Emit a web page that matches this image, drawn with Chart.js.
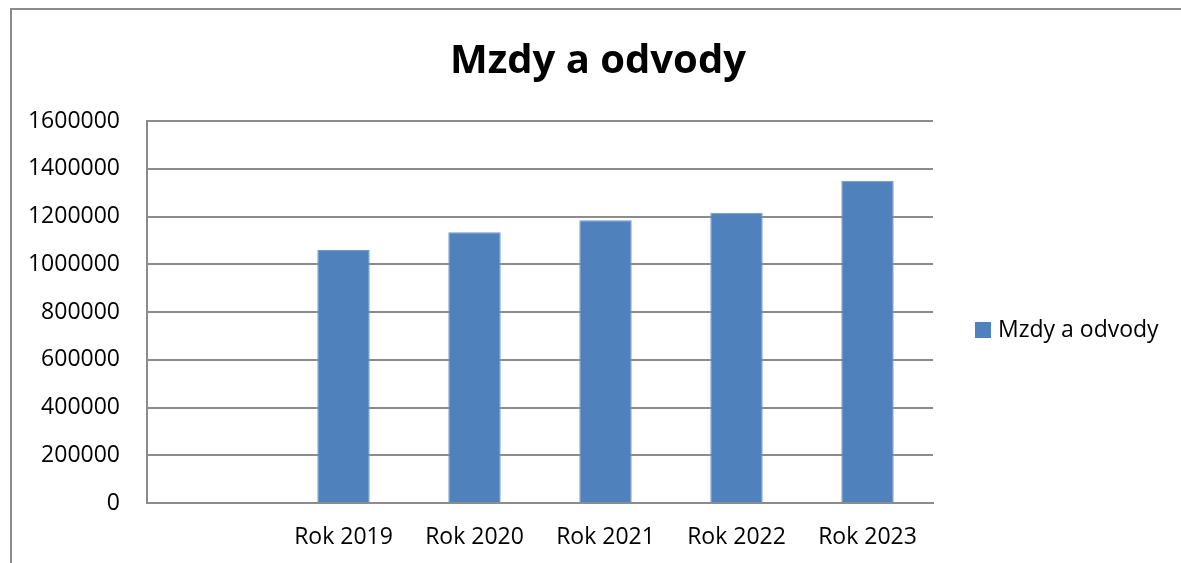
<!DOCTYPE html>
<html>
<head>
<meta charset="utf-8">
<script src="https://cdn.jsdelivr.net/npm/chart.js@4.4.1/dist/chart.umd.min.js"></script>
<style>
    body { margin: 0; background: #fff; overflow: hidden; }
    #frame { position: absolute; left: 10px; top: 8px; width: 1300px; height: 700px; border: 2px solid #8c8c8c; box-sizing: border-box; }
    #wrap { position: absolute; left: 0; top: 0; width: 1181px; height: 563px; }
</style>
</head>
<body>
<div id="frame"></div>
<div id="wrap"><canvas id="mzdy-chart"></canvas></div>
<script>
const categories = ['', 'Rok 2019', 'Rok 2020', 'Rok 2021', 'Rok 2022', 'Rok 2023'];
const mzdyValues = [null, 1060000, 1134000, 1184000, 1216000, 1350000];
const yTicks = [0, 200000, 400000, 600000, 800000, 1000000, 1200000, 1400000, 1600000];

const fontFamily = '"Open Sans", "Liberation Sans", sans-serif';

// legend on the right, drawn by hand so it sits where the original one does
const sideLegend = {
    id: 'sideLegend',
    afterDraw(chart) {
        const c = chart.ctx;
        const ds = chart.data.datasets[0];
        const x = chart.chartArea.right + 42;
        const y = 330;
        c.save();
        c.fillStyle = ds.backgroundColor;
        c.fillRect(x, y - 8, 16, 16);
        c.fillStyle = '#000';
        c.font = '23px ' + fontFamily;
        c.textBaseline = 'middle';
        c.fillText(ds.label, x + 23, y);
        c.restore();
    }
};

const ctx = document.getElementById('mzdy-chart');
//eslint-disable-next-line no-undef
new Chart(ctx, {
    type: 'bar',
    data: {
        labels: categories,
        datasets: [{
            label: 'Mzdy a odvody',
            data: mzdyValues,
            backgroundColor: '#4f81bd',
            borderColor: '#6f98cc',
            borderWidth: 1,
            categoryPercentage: 1,
            barPercentage: 0.4
        }]
    },
    options: {
        responsive: true,
        maintainAspectRatio: false,
        animation: false,
        layout: {
            padding: { left: 15, right: 0, top: 0, bottom: 0 }
        },
        plugins: {
            title: {
                display: true,
                text: 'Mzdy a odvody',
                color: '#000',
                font: { family: fontFamily, size: 40, weight: 'bold' },
                padding: { top: 38, bottom: 35 }
            },
            legend: { display: false },
            tooltip: { enabled: false }
        },
        scales: {
            x: {
                grid: { display: false, drawTicks: false },
                border: { color: '#8c8c8c', width: 2 },
                afterFit: (axis) => { axis.height = 60; },
                ticks: {
                    color: '#000',
                    font: { family: fontFamily, size: 23 },
                    padding: 21,
                    maxRotation: 0
                }
            },
            y: {
                min: 0,
                max: 1600000,
                afterBuildTicks: (axis) => {
                    axis.ticks = yTicks.map(v => ({ value: v }));
                },
                afterFit: (axis) => { axis.width = 132; },
                grid: { color: '#8c8c8c', lineWidth: 2, drawTicks: false },
                border: { color: '#8c8c8c', width: 2 },
                ticks: {
                    color: '#000',
                    font: { family: fontFamily, size: 23 },
                    padding: 27,
                    callback: (v) => String(v)
                }
            },
            // empty right axis, only keeps room for the legend
            legendSpace: {
                type: 'linear',
                position: 'right',
                afterFit: (axis) => { axis.width = 248; },
                grid: { display: false, drawTicks: false },
                border: { display: false },
                ticks: { display: false }
            }
        }
    },
    plugins: [sideLegend]
});
</script>
</body>
</html>
